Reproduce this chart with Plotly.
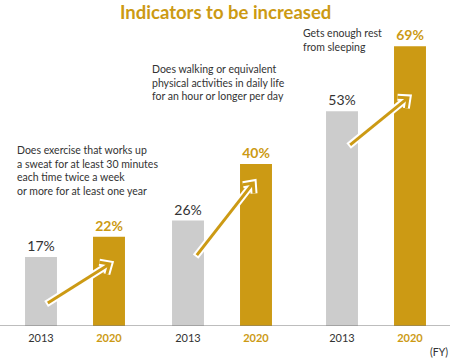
import math
import plotly.graph_objects as go

# ---------------- data ----------------
indicators = [
    "Does exercise that works up<br>a sweat for at least 30 minutes<br>each time twice a week<br>or more for at least one year",
    "Does walking or equivalent<br>physical activities in daily life<br>for an hour or longer per day",
    "Gets enough rest<br>from sleeping",
]
years = ["2013", "2020"]
values_2013 = [17, 26, 53]
values_2020 = [22, 40, 69]
# arrow tail / tip per indicator (category index units, percent)
arrow_tail = [(0.10, 5.7), (0.13, 17.5), (0.12, 44.7)]
arrow_tip = [(1.01, 15.3), (0.96, 35.3), (0.97, 56.3)]

# ---------------- style ----------------
W, H = 450, 360
MT, MB = 20, 34
YMAX = 75.5
GOLD = "#cc9a14"
GRAY = "#cccccc"
TEXT = "#333333"
FONT = "Lato"
domains_px = [(7, 143), (154, 290), (308, 444)]

plot_h = H - MT - MB
ypx = plot_h / YMAX
year_idx = list(range(len(years)))


def paper_y(py):
    return (H - MB - py) / plot_h


fig = go.Figure()

for i in range(3):
    ax = "x" if i == 0 else f"x{i+1}"
    vals = [values_2013[i], values_2020[i]]
    fig.add_trace(go.Bar(
        x=year_idx, y=vals, xaxis=ax, yaxis="y",
        marker=dict(color=[GRAY, GOLD], line=dict(width=0)),
        text=[f"{values_2013[i]}%", f"<b>{values_2020[i]}%</b>"],
        textposition="outside", cliponaxis=False,
        textfont=dict(family=FONT, size=14, color=[TEXT, GOLD]),
        hoverinfo="skip", showlegend=False,
    ))

    # arrow from 2013 bar to 2020 bar
    d0, d1 = domains_px[i]
    xpx = (d1 - d0) / 2.0
    (x0, y0), (x1, y1) = arrow_tail[i], arrow_tip[i]
    dx, dy = (x1 - x0) * xpx, (y1 - y0) * ypx
    n = math.hypot(dx, dy)
    ux, uy = dx / n, dy / n
    L, ang = 10.5, math.radians(42)
    arms = []
    for s in (1, -1):
        c, sn = math.cos(s * ang), math.sin(s * ang)
        rx, ry = -(ux * c - uy * sn), -(ux * sn + uy * c)
        arms.append((x1 + rx * L / xpx, y1 + ry * L / ypx))
    ext = 2.0
    tx, ty = x0 - ux * ext / xpx, y0 - uy * ext / ypx
    for col, wd, start in (("white", 7, (tx, ty)), (GOLD, 3, (x0, y0))):
        fig.add_trace(go.Scatter(
            x=[start[0], x1, None, arms[0][0], x1, arms[1][0]],
            y=[start[1], y1, None, arms[0][1], y1, arms[1][1]],
            xaxis=ax, yaxis="y", mode="lines",
            line=dict(color=col, width=wd),
            hoverinfo="skip", showlegend=False, cliponaxis=False,
        ))

layout_axes = {}
for i, (d0, d1) in enumerate(domains_px):
    key = "xaxis" if i == 0 else f"xaxis{i+1}"
    layout_axes[key] = dict(
        domain=[d0 / W, d1 / W], type="linear", range=[-0.5, 1.5],
        anchor="y", showline=False, showgrid=False, zeroline=False,
        tickmode="array", tickvals=year_idx,
        ticktext=["2013", f"<b><span style='color:{GOLD}'>2020</span></b>"],
        tickfont=dict(family=FONT, size=11, color=TEXT), ticks="",
        ticklabelstandoff=4, fixedrange=True,
    )

fig.update_layout(
    width=W, height=H,
    margin=dict(l=0, r=0, t=MT, b=MB),
    paper_bgcolor="white", plot_bgcolor="white",
    bargap=0.53,
    yaxis=dict(range=[0, YMAX], visible=False, fixedrange=True),
    **layout_axes,
)

fig.add_shape(type="line", xref="paper", yref="y", x0=0, x1=1, y0=0, y1=0,
              line=dict(color="#7a7a7a", width=1))

# title
fig.add_annotation(text="<b>Indicators to be increased</b>", xref="paper", yref="paper",
                   x=225 / W, y=paper_y(12), xanchor="center", yanchor="middle",
                   showarrow=False, font=dict(family=FONT, size=18.5, color=GOLD))

# indicator descriptions
desc_pos = [(15, 170.5), (150, 82.5), (301, 39.5)]
for txt, (px, py) in zip(indicators, desc_pos):
    fig.add_annotation(text=txt, xref="paper", yref="paper", x=px / W, y=paper_y(py),
                       xanchor="left", yanchor="middle", align="left", showarrow=False,
                       font=dict(family=FONT, size=10.5, color=TEXT))

fig.add_annotation(text="(FY)", xref="paper", yref="paper", x=1.0, y=paper_y(352),
                   xanchor="right", yanchor="middle", showarrow=False,
                   font=dict(family=FONT, size=10.5, color=TEXT))

fig.write_html("out.html", config={"displayModeBar": False},
               post_script="document.body.style.margin='0';")
